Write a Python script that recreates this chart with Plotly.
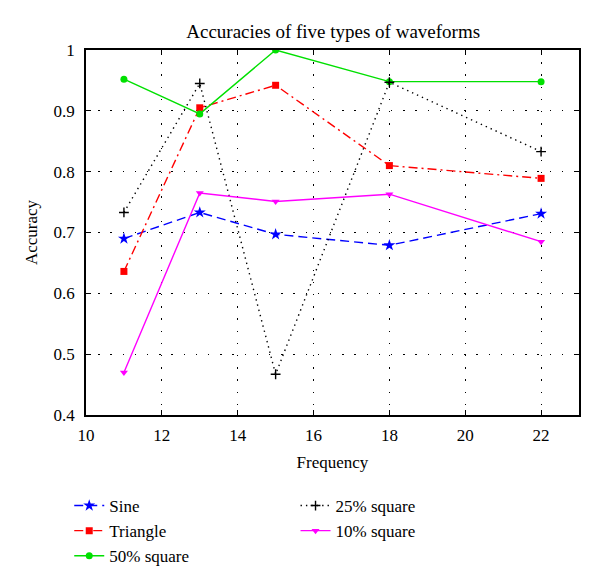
import plotly.graph_objects as go

freq = [11, 13, 15, 18, 22]
sine = [0.690, 0.733, 0.697, 0.679, 0.731]
triangle = [0.636, 0.905, 0.942, 0.810, 0.789]
sq50 = [0.952, 0.895, 1.000, 0.948, 0.948]
sq25 = [0.733, 0.945, 0.467, 0.947, 0.833]
sq10 = [0.470, 0.765, 0.751, 0.763, 0.685]

x_ticks = [10, 12, 14, 16, 18, 20, 22]
y_ticks = [0.4, 0.5, 0.6, 0.7, 0.8, 0.9, 1]

FONT = "Liberation Serif"

fig = go.Figure()

def add(name, y, color, dash, symbol, size, legend, mline=None):
    marker = dict(symbol=symbol, size=size, color=color)
    if mline:
        marker["line"] = mline
    fig.add_trace(go.Scatter(
        x=freq, y=y, name=name, mode="lines+markers",
        line=dict(color=color, dash=dash, width=1.4),
        marker=marker, legend=legend,
    ))

add("Sine", sine, "#0000ff", "9px,5px", "star", 9, "legend")
add("Triangle", triangle, "#ff0000", "9px,4px,2px,4px", "square", 7, "legend")
add("50% square", sq50, "#00e000", "solid", "circle", 7, "legend")
add("25% square", sq25, "#000000", "1.4px,4px", "cross-thin", 7, "legend2",
    mline=dict(color="#000000", width=1.4))
add("10% square", sq10, "#ff00ff", "solid", "triangle-down", 7, "legend2")

axis_common = dict(
    showline=True, linecolor="black", linewidth=1.5, mirror="ticks",
    ticks="inside", ticklen=5, tickcolor="black", tickwidth=1.2,
    showgrid=True, gridcolor="black", griddash="1.4px,10.8px", gridwidth=1,
    zeroline=False,
    tickfont=dict(family=FONT, size=17, color="black"),
)

fig.update_xaxes(range=[10, 23], tickvals=x_ticks, ticklabelstandoff=4,
                 title=dict(text="Frequency", font=dict(family=FONT, size=17, color="black"), standoff=12),
                 **axis_common)
fig.update_yaxes(range=[0.4, 1], tickvals=y_ticks, ticktext=["0.4", "0.5", "0.6", "0.7", "0.8", "0.9", "1"],
                 ticklabelstandoff=6,
                 title=dict(text="Accuracy", font=dict(family=FONT, size=17, color="black"), standoff=12),
                 **axis_common)

legend_common = dict(
    font=dict(family=FONT, size=17, color="black"),
    bgcolor="rgba(0,0,0,0)", borderwidth=0,
    yanchor="top", xanchor="left", tracegroupgap=0, itemwidth=30,
)

fig.update_layout(
    width=600, height=587,
    margin=dict(l=78, r=29, t=42, b=180),
    paper_bgcolor="white", plot_bgcolor="white",
    title=dict(text="Accuracies of five types of waveforms", x=0.542, xanchor="center", y=0.961, yanchor="middle",
               font=dict(family=FONT, size=19, color="black")),
    legend=dict(x=-0.034, y=-0.2, **legend_common),
    legend2=dict(x=0.425, y=-0.2, **legend_common),
    showlegend=True,
)

fig.write_html("out.html")
